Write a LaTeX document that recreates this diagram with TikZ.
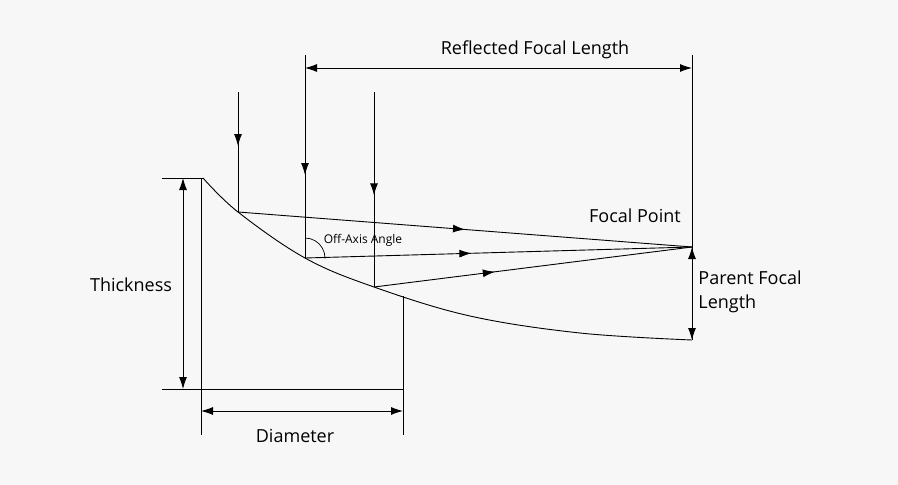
\documentclass[tikz,border=0pt]{standalone}
\usepackage{fontspec}
\setmainfont{Open Sans}
\usetikzlibrary{arrows.meta,decorations.markings}
\tikzset{
    tipA/.style={-{Latex[length=12pt,width=8pt]}},
    dimA/.style={{Latex[length=12pt,width=8pt]}-{Latex[length=12pt,width=8pt]}},
    midA/.style={
        decoration={
            markings,
            mark= at position #1 with {\arrow{Latex[length=12pt,width=8pt]}},
        },
        postaction={decorate}
    },
    midA/.default={0.5},
    lbl/.style={font=\fontsize{18}{24}\selectfont, inner sep=1pt}
}
\begin{document}
\begin{tikzpicture}[x=1pt,y=-1pt,line width=0.9pt]
    \fill[fill={rgb,255:red,247;green,247;blue,247}] (0,0) rectangle (898,485);
    \useasboundingbox (0,0) rectangle (898,485);
    % mirror points
    \coordinate (m0) at (203,178);
    \coordinate (m1) at (238,212);
    \coordinate (m2) at (305,258);
    \coordinate (m3) at (374,287);
    \coordinate (m4) at (403,296);
    \coordinate (m5) at (692,340);
    \coordinate (fp) at (692,247);
    \draw plot[smooth, tension=0.6] coordinates {(203,178) (238,212) (305,258) (374,287) (470,316) (580,333) (692,340)};
    % outline
    \coordinate (tl) at (162,178);
    \coordinate (bl) at (162,389);
    \coordinate (br) at (403,389);
    \coordinate (dl) at (201,435);
    \coordinate (dr) at (403,435);
    \draw (tl) -- (m0);
    \draw (bl) -- (br);
    \draw (201,178) -- (dl);
    \draw (m4) -- (dr);
    \draw[dimA] (183,178) -- (183,389);
    \draw[dimA] (201,411) -- (403,411);
    % incoming rays
    \coordinate (r1) at (238,92);
    \coordinate (r2) at (305,55);
    \coordinate (r3) at (374,92);
    \draw[midA=0.45] (r1) -- (m1);
    \draw (r2) -- (m2);
    \draw[midA] (305,92) -- (m2);
    \draw[midA=0.53] (r3) -- (m3);
    % reflected rays
    \draw[midA=0.5] (m1) -- (fp);
    \draw[midA=0.43] (m2) -- (fp);
    \draw[midA=0.38] (m3) -- (fp);
    % focal lengths
    \coordinate (ft) at (692,55);
    \draw (ft) -- (m5);
    \draw[dimA] (305,68) -- (692,68);
    \draw[dimA] (fp) -- (m5);
    % angle
    \draw[line width=0.7pt] (305,238) arc[start angle=-90, end angle=2, radius=20];
    \node[lbl] at (535,50) {Reflected Focal Length};
    \node[lbl] at (635,216) {Focal Point};
    \node[lbl] at (131,285) {Thickness};
    \node[lbl] at (295,436) {Diameter};
    \node[lbl, anchor=west, align=left] at (697,292) {Parent Focal\\Length};
    \node[font=\fontsize{12}{14}\selectfont, inner sep=1pt] at (363,240) {Off-Axis Angle};
\end{tikzpicture}
\end{document}
